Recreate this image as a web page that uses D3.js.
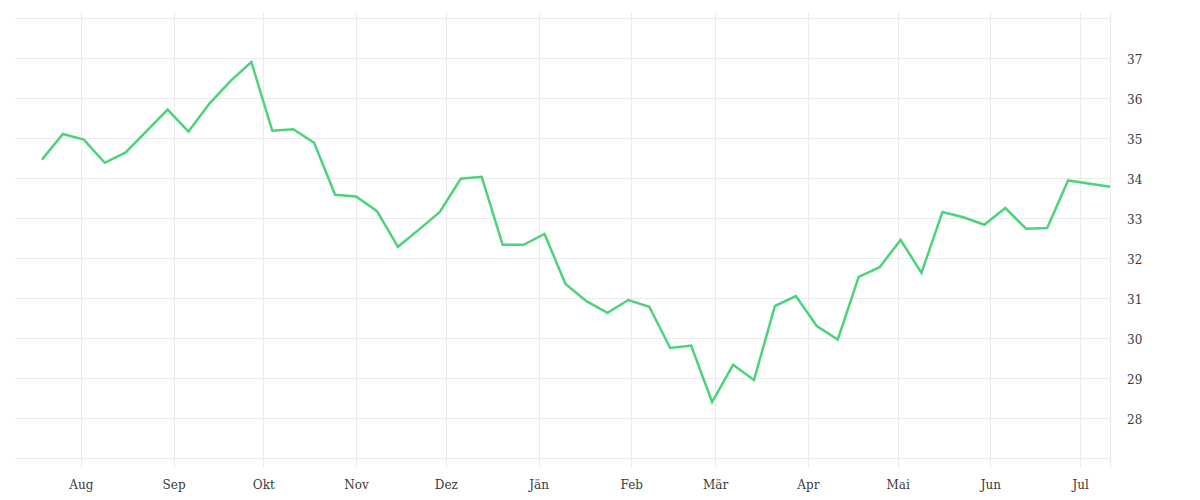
<!DOCTYPE html>
<html>
<head>
<meta charset="utf-8">
<script src="https://cdn.jsdelivr.net/npm/d3@7"></script>
<style>
  html, body { margin: 0; padding: 0; background: #fff; }
  svg { display: block; }
  .tick text { font-family: "DejaVu Serif", serif; font-size: 12px; fill: #3a3a3a; }
</style>
</head>
<body>
<svg id="chart" width="1200" height="500"></svg>
<script>
// ---- data ----
const startDate = "2022-07-19";
const lastDate = "2023-07-11";
const values = [
  34.46, 35.10, 34.96, 34.38, 34.64, 35.17, 35.71, 35.16, 35.86, 36.42,
  36.90, 35.18, 35.22, 34.88, 33.58, 33.54, 33.17, 32.28, 32.71, 33.15,
  33.98, 34.03, 32.33, 32.33, 32.60, 31.35, 30.92, 30.63, 30.95, 30.78,
  29.75, 29.81, 28.40, 29.33, 28.95, 30.80, 31.05, 30.30, 29.96, 31.53,
  31.77, 32.45, 31.63, 33.15, 33.02, 32.83, 33.25, 32.73, 32.75, 33.94,
  33.78
];
const monthLabels = ["Jän","Feb","Mär","Apr","Mai","Jun","Jul","Aug","Sep","Okt","Nov","Dez"];
const yTicks = [28, 29, 30, 31, 32, 33, 34, 35, 36, 37];
const yGrid = [27, 28, 29, 30, 31, 32, 33, 34, 35, 36, 37, 38];

(function () {
  const parse = d3.timeParse("%Y-%m-%d");
  const t0 = parse(startDate);
  const data = values.map((v, i) => ({
    date: i < values.length - 1 ? d3.timeDay.offset(t0, 7 * i) : parse(lastDate),
    value: v
  }));

  const svg = d3.select("#chart");
  const pl = 15, pr = 1110, pt = 18, pb = 458;

  const x = d3.scaleTime()
    .domain([parse("2022-07-10"), parse("2023-07-11")])
    .range([pl, pr]);
  const y = d3.scaleLinear().domain([27, 38]).range([pb, pt]);

  // horizontal grid
  svg.append("g").selectAll("line").data(yGrid).join("line")
    .attr("x1", pl).attr("x2", pr)
    .attr("y1", d => Math.round(y(d)) + 0.5).attr("y2", d => Math.round(y(d)) + 0.5)
    .attr("stroke", "#ebebeb").attr("stroke-width", 1);

  // vertical grid
  const months = d3.timeMonth.range(d3.timeMonth.ceil(x.domain()[0]), x.domain()[1]);
  svg.append("g").selectAll("line").data(months).join("line")
    .attr("x1", d => Math.round(x(d)) + 0.5).attr("x2", d => Math.round(x(d)) + 0.5)
    .attr("y1", 12).attr("y2", 468)
    .attr("stroke", "#ebebeb").attr("stroke-width", 1);
  svg.append("line")
    .attr("x1", pr + 0.5).attr("x2", pr + 0.5)
    .attr("y1", 12).attr("y2", 468)
    .attr("stroke", "#ebebeb").attr("stroke-width", 1);

  const xAxis = d3.axisBottom(x)
    .tickValues(months)
    .tickSize(0).tickPadding(0)
    .tickFormat(d => monthLabels[d.getMonth()]);
  svg.append("g")
    .attr("transform", "translate(0, 478)")
    .call(xAxis)
    .call(g => g.select(".domain").remove())
    .call(g => g.selectAll("text").attr("dy", "0.71em").attr("y", 2));

  const yAxis = d3.axisRight(y)
    .tickValues(yTicks)
    .tickSize(0).tickPadding(0)
    .tickFormat(d3.format("d"));
  svg.append("g")
    .attr("transform", "translate(1127, 2)")
    .call(yAxis)
    .call(g => g.select(".domain").remove());

  const line = d3.line().x(d => x(d.date)).y(d => y(d.value));
  svg.append("path")
    .datum(data)
    .attr("fill", "none")
    .attr("stroke", "#4cd37b")
    .attr("stroke-width", 2.5)
    .attr("stroke-linejoin", "miter")
    .attr("d", line);
})();
</script>
</body>
</html>
